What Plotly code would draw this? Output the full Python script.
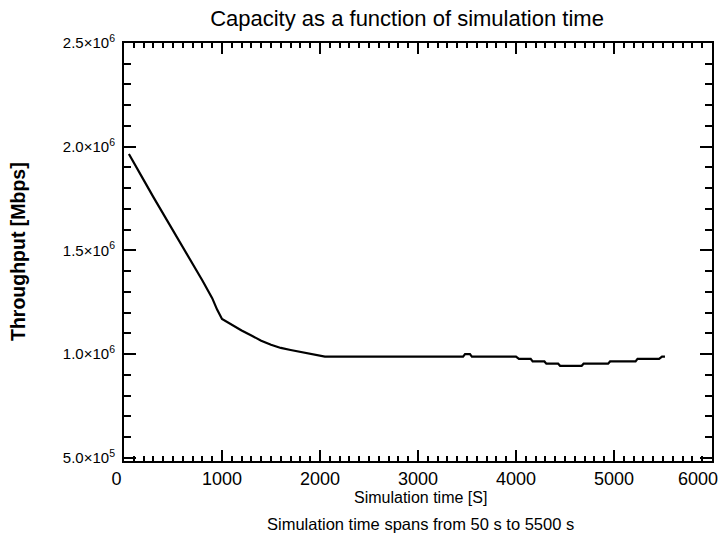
import plotly.graph_objects as go

# Simulation time [s]
time_s = [50, 100, 200, 300, 400, 500, 600, 700, 800, 900, 950, 1000, 1050, 1100,
          1200, 1300, 1400, 1500, 1600, 1700, 1800, 1900, 2000, 2050,
          3460, 3480, 3530, 3550, 4000, 4030, 4150, 4170, 4290, 4310, 4430, 4450,
          4670, 4690, 4940, 4960, 5220, 5240, 5460, 5490, 5520]
# Throughput [Mbps]
throughput = [1.965e6, 1.925e6, 1.840e6, 1.757e6, 1.677e6, 1.598e6, 1.518e6, 1.432e6,
              1.355e6, 1.270e6, 1.215e6, 1.170e6, 1.155e6, 1.143e6, 1.114e6, 1.090e6,
              1.065e6, 1.045e6, 1.030e6, 1.020e6, 1.010e6, 1.002e6, 0.992e6, 0.988e6,
              0.988e6, 1.000e6, 1.000e6, 0.988e6, 0.988e6, 0.977e6, 0.977e6, 0.965e6,
              0.965e6, 0.954e6, 0.954e6, 0.944e6, 0.944e6, 0.954e6, 0.954e6, 0.965e6,
              0.965e6, 0.977e6, 0.977e6, 0.988e6, 0.988e6]

x_ticks = [0, 1000, 2000, 3000, 4000, 5000, 6000]
x_tick_text = ["0&nbsp;&nbsp;&nbsp;", "1000", "2000", "3000", "4000", "5000", ""]
last_x_label = "6000"
y_ticks = [5e5, 1e6, 1.5e6, 2e6, 2.5e6]
y_tick_text = ["5.0×10<sup>5</sup>", "1.0×10<sup>6</sup>", "1.5×10<sup>6</sup>",
               "2.0×10<sup>6</sup>", "2.5×10<sup>6</sup>"]

FONT = "Liberation Sans, Arial, sans-serif"

fig = go.Figure()
fig.add_trace(go.Scatter(x=time_s, y=throughput, mode="lines",
                         line=dict(color="black", width=2.2), showlegend=False))

fig.update_layout(
    width=722, height=536,
    margin=dict(l=124, r=10, t=43, b=75, autoexpand=False),
    paper_bgcolor="white", plot_bgcolor="white",
    font=dict(family=FONT, color="black"),
    title=dict(text="Capacity as a function of simulation time",
               x=407/722, xanchor="center", xref="container",
               y=1-18/536, yanchor="middle", yref="container",
               font=dict(size=22, color="black", family=FONT)),
)

fig.update_xaxes(range=[0, 6000], tickvals=x_ticks, ticktext=x_tick_text,
                 automargin=False,
                 showgrid=False, zeroline=False, showline=True, linecolor="black",
                 linewidth=2, mirror="allticks", ticks="inside", ticklen=11,
                 tickwidth=2, tickcolor="black", tickfont=dict(size=18, color="black"),
                 minor=dict(tickmode="linear", tick0=0, dtick=100, ticks="inside",
                            ticklen=5, tickwidth=2, tickcolor="black", showgrid=False))
fig.update_yaxes(range=[0.485e6, 2.5e6], tickvals=y_ticks, ticktext=y_tick_text,
                 automargin=False,
                 showgrid=False, zeroline=False, showline=True, linecolor="black",
                 linewidth=2, mirror="allticks", ticks="inside", ticklen=12,
                 tickwidth=2, tickcolor="black", tickfont=dict(size=15, color="black"),
                 ticklabelstandoff=4,
                 minor=dict(tickmode="linear", tick0=0, dtick=1e5, ticks="inside",
                            ticklen=7, tickwidth=2, tickcolor="black", showgrid=False))

# last x tick label, pulled inside the page like in the reference
fig.add_annotation(text=last_x_label, xref="x", yref="paper", x=x_ticks[-1], y=0,
                   xanchor="right", yanchor="top", xshift=8, yshift=-6,
                   showarrow=False, font=dict(size=18, color="black", family=FONT))

fig.add_annotation(text="<b>Throughput [Mbps]</b>", textangle=-90,
                   xref="paper", yref="paper", x=(18-124)/588, y=0.5,
                   xanchor="center", yanchor="middle", showarrow=False,
                   font=dict(size=19.5, color="black", family=FONT))
fig.add_annotation(text="Simulation time [S]",
                   xref="paper", yref="paper", x=(420-124)/588, y=(461-497)/418,
                   xanchor="center", yanchor="middle", showarrow=False,
                   font=dict(size=16, color="black", family=FONT))
fig.add_annotation(text="Simulation time spans from 50 s to 5500 s",
                   xref="paper", yref="paper", x=(420-124)/588, y=(461-524)/418,
                   xanchor="center", yanchor="middle", showarrow=False,
                   font=dict(size=16.5, color="black", family=FONT))

fig.write_html("out.html")
